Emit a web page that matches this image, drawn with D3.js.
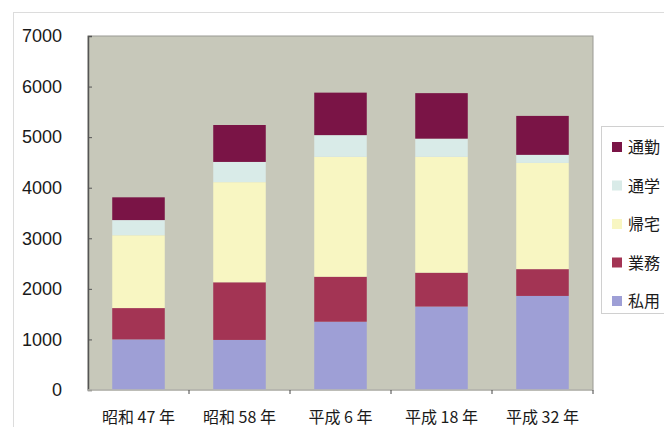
<!DOCTYPE html>
<html>
<head>
<meta charset="utf-8">
<script src="https://cdn.jsdelivr.net/npm/d3@7"></script>
<style>
  html, body { margin: 0; padding: 0; background: #ffffff; }
  svg { display: block; }
  text { font-family: "Liberation Sans", Arial, "Noto Sans CJK JP", sans-serif; fill: #1a1a1a; }
  .jp { font-family: "Noto Sans CJK JP", "Noto Sans CJK SC", sans-serif; }
</style>
</head>
<body>
<svg id="chart" width="664" height="427"></svg>
<script>
// Trips by purpose, stacked from the bottom up
const categories = ["昭和 47 年", "昭和 58 年", "平成 6 年", "平成 18 年", "平成 32 年"];
const seriesNames = ["私用", "業務", "帰宅", "通学", "通勤"];
const privateTrips  = [1000,  990, 1350, 1650, 1860];
const businessTrips = [ 620, 1140,  890,  670,  530];
const homeTrips     = [1440, 1980, 2370, 2290, 2100];
const schoolTrips   = [ 300,  400,  430,  360,  160];
const commuteTrips  = [ 450,  730,  840,  900,  770];
const yTicks = [0, 1000, 2000, 3000, 4000, 5000, 6000, 7000];
const colors = ["#9e9fd6", "#a33454", "#f8f6c2", "#d9ebe8", "#7a1446"];

const seriesValues = [privateTrips, businessTrips, homeTrips, schoolTrips, commuteTrips];
const rows = categories.map((c, i) => {
  const r = { category: c };
  seriesNames.forEach((s, k) => { r[s] = seriesValues[k][i]; });
  return r;
});
const stacked = d3.stack().keys(seriesNames)(rows);

const svg = d3.select("#chart");
const plot = { left: 88, right: 593, top: 36, bottom: 390 };

// outer chart frame
svg.append("rect")
  .attr("x", 13.5).attr("y", 12.5).attr("width", 700).attr("height", 500)
  .attr("fill", "none").attr("stroke", "#dcdcdc");

const x = d3.scaleBand().domain(categories)
  .range([plot.left, plot.right]).paddingInner(0.48).paddingOuter(0.24);
const y = d3.scaleLinear().domain([0, 7000]).range([plot.bottom, plot.top]);

// plot background
svg.append("rect")
  .attr("x", plot.left).attr("y", plot.top)
  .attr("width", plot.right - plot.left).attr("height", plot.bottom - plot.top)
  .attr("fill", "#c7c8ba")
  .attr("stroke", "#9a9a94").attr("stroke-width", 1);

// stacked bars
svg.append("g").selectAll("g").data(stacked).join("g")
  .attr("fill", (d, i) => colors[i])
  .selectAll("rect").data(d => d).join("rect")
  .attr("x", d => x(d.data.category))
  .attr("width", x.bandwidth())
  .attr("y", d => y(d[1]))
  .attr("height", d => y(d[0]) - y(d[1]));

// y axis
const yAxis = d3.axisLeft(y).tickValues(yTicks).tickSize(-4).tickPadding(26)
  .tickFormat(d3.format("d"));
const gy = svg.append("g").attr("transform", `translate(${plot.left},0)`).call(yAxis);
gy.select(".domain").attr("stroke", "#555").attr("stroke-width", 1.5);
gy.selectAll(".tick line").attr("stroke", "#555");
gy.selectAll(".tick text").attr("font-size", 18).attr("fill", "#1a1a1a")
  .attr("font-family", "'Liberation Sans', Arial, sans-serif");

// x axis: category separators at band edges
const gx = svg.append("g").attr("transform", `translate(0,${plot.bottom})`);
gx.append("line").attr("x1", plot.left).attr("x2", plot.right)
  .attr("stroke", "#b8b8b0").attr("stroke-width", 1.5);
const step = x.step();
gx.selectAll("line.sep").data(d3.range(1, categories.length + 1)).join("line")
  .attr("class", "sep")
  .attr("x1", i => plot.left + i * step).attr("x2", i => plot.left + i * step)
  .attr("y1", 0).attr("y2", 4).attr("stroke", "#444");
gx.selectAll("text").data(categories).join("text")
  .attr("class", "jp")
  .attr("x", d => x(d) + x.bandwidth() / 2)
  .attr("y", 33)
  .attr("text-anchor", "middle")
  .attr("font-size", 16)
  .text(d => d);

// legend, top series first
const legend = svg.append("g");
legend.append("rect")
  .attr("x", 601.5).attr("y", 126.5).attr("width", 120).attr("height", 187)
  .attr("fill", "#ffffff").attr("stroke", "#d0d0d0");
const legendOrder = seriesNames.map((s, i) => ({ name: s, color: colors[i] })).reverse();
const item = legend.selectAll("g.item").data(legendOrder).join("g")
  .attr("class", "item")
  .attr("transform", (d, i) => `translate(612,${147 + i * 38.5})`);
item.append("rect").attr("x", 0).attr("y", -5).attr("width", 10).attr("height", 10)
  .attr("fill", d => d.color);
item.append("text").attr("class", "jp").attr("x", 16).attr("y", 6)
  .attr("font-size", 16).text(d => d.name);
</script>
</body>
</html>
